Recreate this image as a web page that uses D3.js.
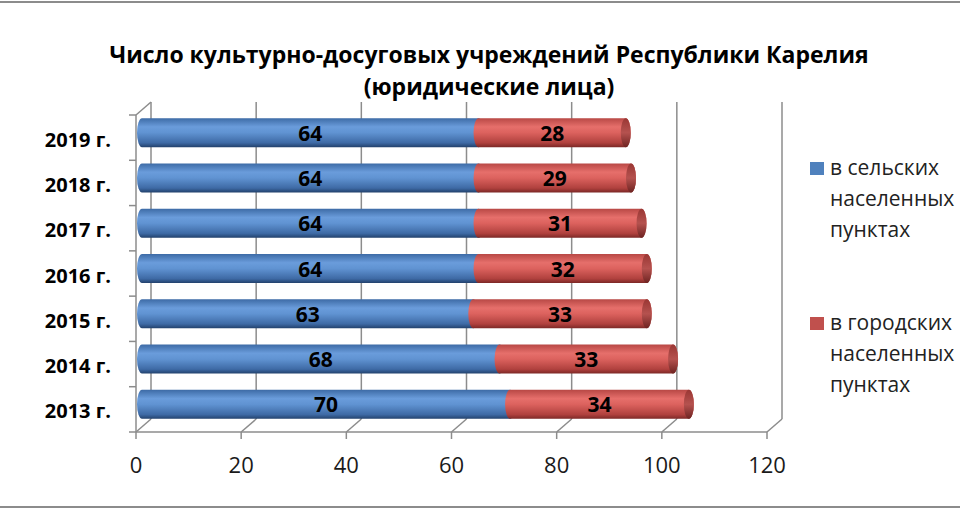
<!DOCTYPE html>
<html>
<head>
<meta charset="utf-8">
<script src="https://cdn.jsdelivr.net/npm/d3@7"></script>
<style>
  body { margin: 0; background: #fff; }
  svg { display: block; font-family: "Open Sans", "Noto Sans", sans-serif; }
</style>
</head>
<body>
<svg id="chart" width="960" height="510"></svg>
<script>
const years = ["2013 г.", "2014 г.", "2015 г.", "2016 г.", "2017 г.", "2018 г.", "2019 г."]
const rural = [70, 68, 63, 64, 64, 64, 64]   // в сельских населенных пунктах
const urban = [34, 33, 33, 32, 31, 29, 28]   // в городских населенных пунктах
const xTicks = [0, 20, 40, 60, 80, 100, 120]
const titleLines = ["Число культурно-досуговых учреждений Республики Карелия", "(юридические лица)"]
const legendItems = [
  { name: ["в сельских", "населенных", "пунктах"], color: "#4F81BD" },
  { name: ["в городских", "населенных", "пунктах"], color: "#C0504D" }
]

const svg = d3.select("#chart")

// 3d depth offset of the back wall
const depthX = 15, depthY = -13
const barH = 29

const x = d3.scaleLinear().domain([0, 120]).range([136, 767])
const y = d3.scaleBand().domain(years.slice().reverse()).range([115, 432])

const rows = years.map((yr, i) => ({ year: yr, rural: rural[i], urban: urban[i] }))

// frame lines (top / bottom)
svg.append("line").attr("x1", 0).attr("x2", 960).attr("y1", 2).attr("y2", 2)
  .attr("stroke", "#8c8c8c").attr("stroke-width", 2)
svg.append("line").attr("x1", 0).attr("x2", 960).attr("y1", 507).attr("y2", 507)
  .attr("stroke", "#8c8c8c").attr("stroke-width", 2)

// title
svg.append("g").selectAll("text")
  .data(titleLines)
  .enter()
  .append("text")
  .attr("x", 489)
  .attr("y", (d, i) => 63 + i * 32)
  .attr("text-anchor", "middle")
  .attr("font-weight", "bold")
  .attr("font-size", 23)
  .attr("fill", "#000")
  .text(d => d)

// gradients
const defs = svg.append("defs")
function addGradient(id, stops) {
  const g = defs.append("linearGradient").attr("id", id)
    .attr("x1", 0).attr("y1", 0).attr("x2", 0).attr("y2", 1)
  stops.forEach(s => g.append("stop").attr("offset", s[0]).attr("stop-color", s[1]))
}
addGradient("gradBlue", [[0, "#3d6ba6"], [0.3, "#6a9cdb"], [0.5, "#6093d2"], [0.85, "#3e6aa5"], [1, "#22416c"]])
addGradient("gradRed", [[0, "#b84845"], [0.3, "#e66f6b"], [0.5, "#dc625e"], [0.85, "#b0413e"], [1, "#7c2826"]])
addGradient("capRed", [[0, "#9a3734"], [0.5, "#b5524f"], [1, "#6e2321"]])

// walls
const walls = svg.append("g").attr("stroke", "#8c8c8c").attr("stroke-width", 1.5).attr("fill", "none")
const yTop = y.range()[0], yBot = y.range()[1]

// back wall grid lines
walls.selectAll(".grid")
  .data(xTicks)
  .enter()
  .append("line")
  .attr("x1", d => x(d) + depthX).attr("x2", d => x(d) + depthX)
  .attr("y1", yTop + depthY).attr("y2", yBot + depthY)

// floor diagonals
walls.selectAll(".floor")
  .data(xTicks)
  .enter()
  .append("line")
  .attr("x1", d => x(d)).attr("y1", yBot)
  .attr("x2", d => x(d) + depthX).attr("y2", yBot + depthY)

// front bottom axis + ticks
walls.append("line").attr("x1", x(0)).attr("x2", x(120)).attr("y1", yBot).attr("y2", yBot)
walls.selectAll(".xtick")
  .data(xTicks)
  .enter()
  .append("line")
  .attr("x1", d => x(d)).attr("x2", d => x(d))
  .attr("y1", yBot).attr("y2", yBot + 7)

// left wall
walls.append("line").attr("x1", x(0)).attr("x2", x(0)).attr("y1", yTop).attr("y2", yBot)
walls.append("line").attr("x1", x(0)).attr("y1", yTop).attr("x2", x(0) + depthX).attr("y2", yTop + depthY)
walls.selectAll(".ytick")
  .data(y.domain().map(d => y(d)).concat([yBot]))
  .enter()
  .append("line")
  .attr("x1", x(0) - 7).attr("x2", x(0))
  .attr("y1", d => d).attr("y2", d => d)

// x tick labels
svg.append("g").selectAll("text")
  .data(xTicks)
  .enter()
  .append("text")
  .attr("x", d => x(d))
  .attr("y", 473)
  .attr("text-anchor", "middle")
  .attr("font-size", 22)
  .attr("fill", "#1a1a1a")
  .text(d => d)

// category labels
svg.append("g").selectAll("text")
  .data(years)
  .enter()
  .append("text")
  .attr("x", 111)
  .attr("y", d => y(d) + y.bandwidth() / 2 + 9)
  .attr("text-anchor", "end")
  .attr("font-size", 20)
  .attr("font-weight", "bold")
  .attr("fill", "#000")
  .text(d => d)

// cylinders
const rx = 5
const bx = v => x(v) + 6
const cy = d => y(d.year) + y.bandwidth() / 2 - 5

function bodyPath(x0, x1, c) {
  const t = c - barH / 2, b = c + barH / 2, ry = barH / 2
  return `M${x0},${t} L${x1},${t} A${rx},${ry} 0 0 1 ${x1},${b} L${x0},${b} A${rx},${ry} 0 0 1 ${x0},${t} Z`
}

const bars = svg.append("g").selectAll("g")
  .data(rows)
  .enter()
  .append("g")

bars.append("path")
  .attr("d", d => bodyPath(bx(0), bx(d.rural), cy(d)))
  .attr("fill", "url(#gradBlue)")

bars.append("path")
  .attr("d", d => bodyPath(bx(d.rural), bx(d.rural + d.urban), cy(d)))
  .attr("fill", "url(#gradRed)")

bars.append("ellipse")
  .attr("cx", d => bx(d.rural + d.urban))
  .attr("cy", d => cy(d))
  .attr("rx", rx)
  .attr("ry", barH / 2)
  .attr("fill", "url(#capRed)")

// value labels
bars.append("text")
  .attr("x", d => (bx(0) + bx(d.rural)) / 2)
  .attr("y", d => cy(d) + 8)
  .attr("text-anchor", "middle")
  .attr("font-size", 21)
  .attr("font-weight", "bold")
  .attr("fill", "#000")
  .text(d => d.rural)

bars.append("text")
  .attr("x", d => (bx(d.rural) + bx(d.rural + d.urban)) / 2)
  .attr("y", d => cy(d) + 8)
  .attr("text-anchor", "middle")
  .attr("font-size", 21)
  .attr("font-weight", "bold")
  .attr("fill", "#000")
  .text(d => d.urban)

// legend
const legend = svg.append("g").selectAll("g")
  .data(legendItems)
  .enter()
  .append("g")
  .attr("transform", (d, i) => `translate(810, ${162 + i * 155})`)

legend.append("rect")
  .attr("width", 14).attr("height", 13)
  .attr("fill", d => d.color)

legend.selectAll("text")
  .data(d => d.name)
  .enter()
  .append("text")
  .attr("x", 20)
  .attr("y", (d, i) => 13 + i * 31)
  .attr("font-size", 21)
  .attr("fill", "#222")
  .text(d => d)
</script>
</body>
</html>
